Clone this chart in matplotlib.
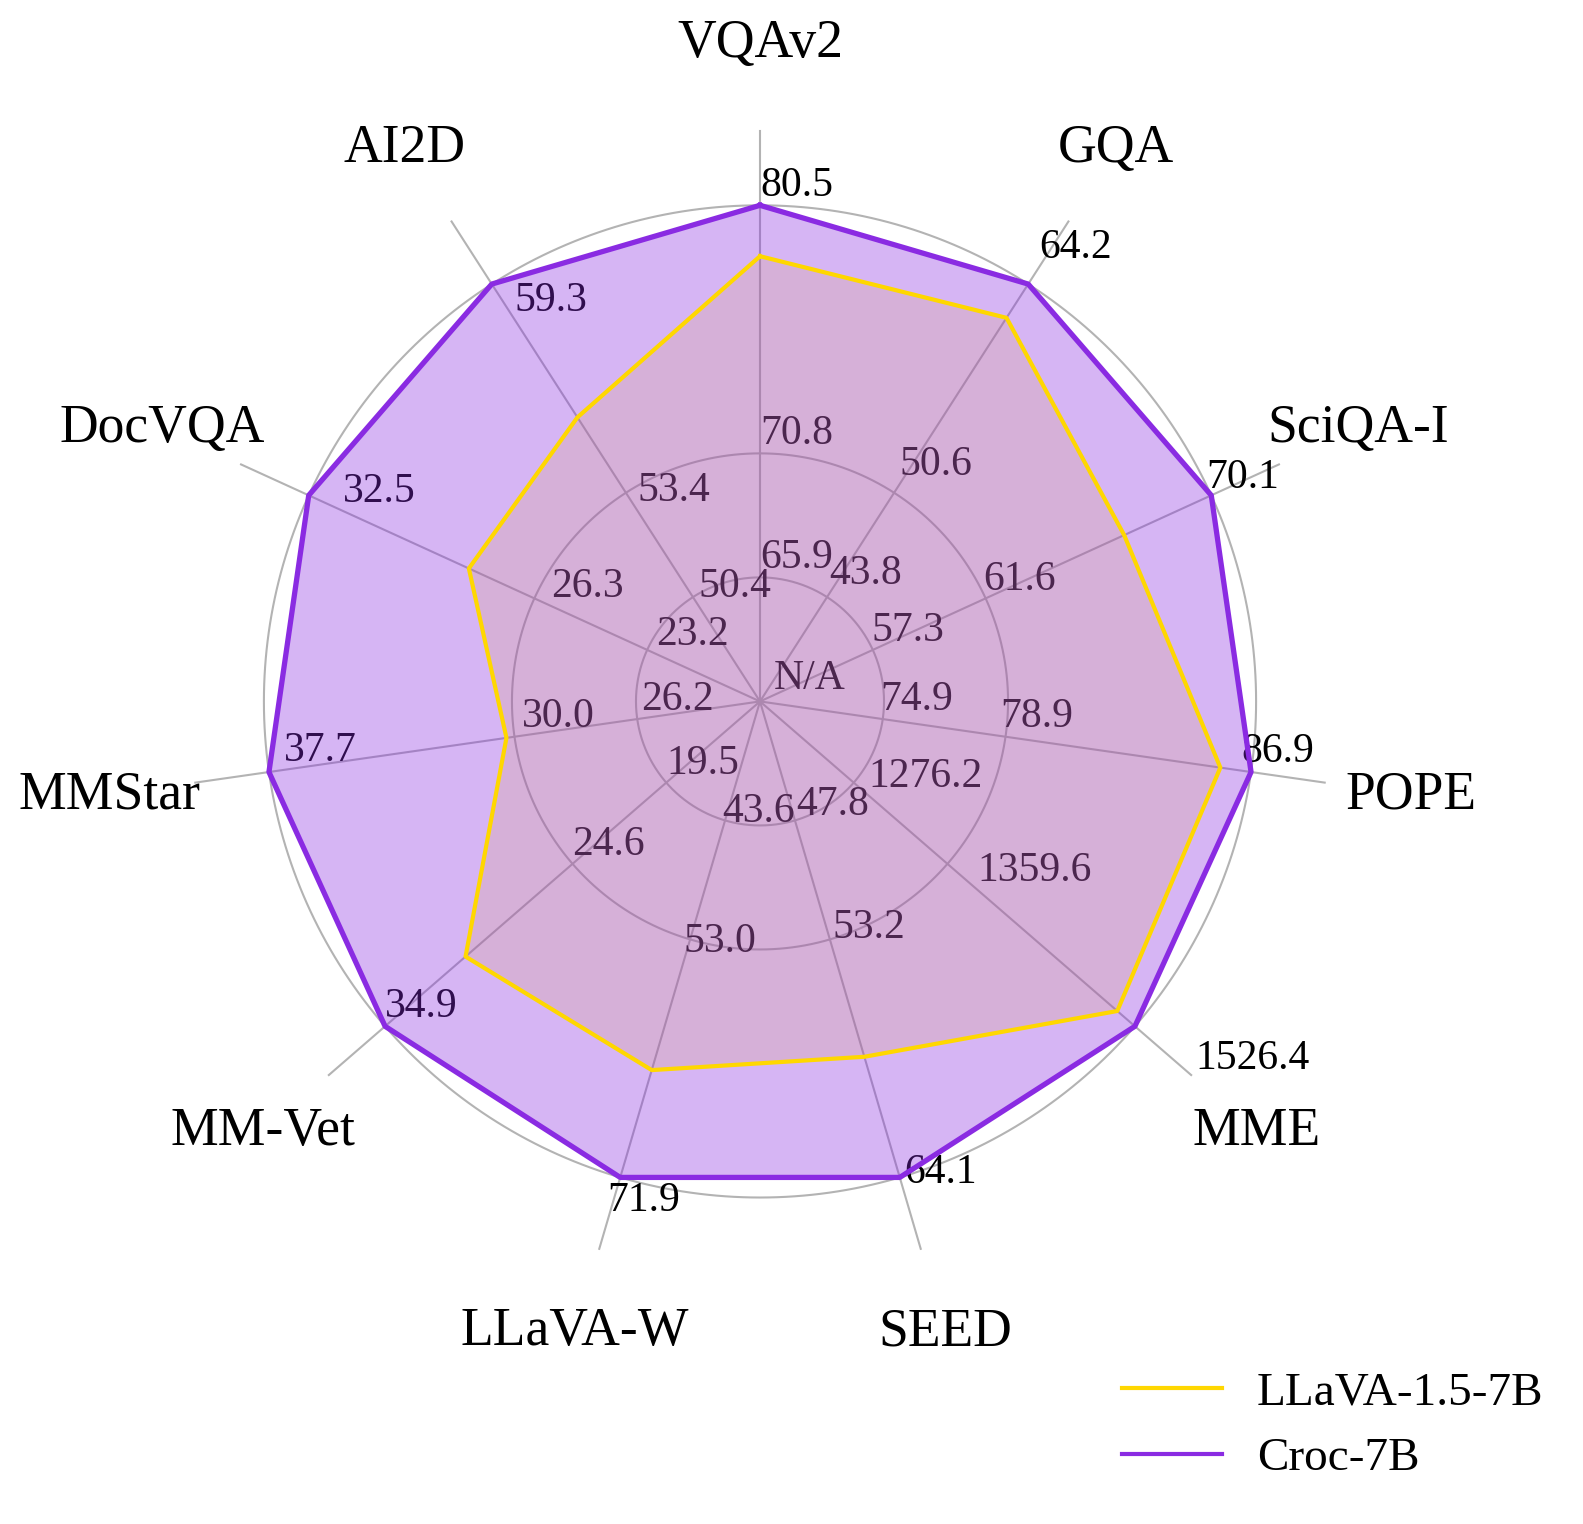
import numpy as np
import matplotlib
matplotlib.use("Agg")
import matplotlib.pyplot as plt
from matplotlib.lines import Line2D

# 数据
categories = ["VQAv2", "GQA", "SciQA-I", "POPE", "MME", "SEED",
              "LLaVA-W", "MM-Vet", "MMStar", "DocVQA", "AI2D"]
series_names = ["LLaVA-1.5-7B", "Croc-7B"]
llava_7b = [78.5, 62.0, 66.8, 85.9, 1510.7, 58.6, 63.4, 30.5, 30.3, 28.1, 55.5]
croc_7b = [80.5, 64.2, 70.1, 86.9, 1526.4, 64.1, 71.9, 34.9, 37.7, 32.5, 59.3]
# 每个轴在内圈 / 中圈上的刻度值
tick_inner = [65.9, 43.8, 57.3, 74.9, 1276.2, 47.8, 43.6, 19.5, 26.2, 23.2, 50.4]
tick_mid = [70.8, 50.6, 61.6, 78.9, 1359.6, 53.2, 53.0, 24.6, 30.0, 26.3, 53.4]

# 样式 / 布局
YELLOW = "#FFD700"
PURPLE = "#8A2BE2"
GRID = "#b3b3b3"
RINGS = [0.25, 0.5, 1.0]
SPOKE_END = 1.15
LABEL_R = 1.325
# 刻度文字的径向微调（每个轴）
label_k = [1.0, 1.04, 0.99, 0.98, 1.16, 1.03, 1.09, 1.0, 0.97, 0.925, 0.915]

plt.rcParams["font.family"] = ["Liberation Serif", "DejaVu Serif"]

n = len(categories)
angles = np.arange(n) * 2 * np.pi / n

# 每个轴单独线性缩放：内圈=0.25，中圈=0.5，Croc=1.0
inner = np.array(tick_inner)
mid = np.array(tick_mid)
lo = 2 * inner - mid
hi = np.array(croc_7b)


def to_r(vals):
    return (np.array(vals) - lo) / (hi - lo)


fig = plt.figure(figsize=(1583 / 200, 1524 / 200), dpi=200)
ax = fig.add_axes([0.1197, 0.1654, 0.7208, 0.7487], projection="polar")
ax.set_theta_offset(np.pi / 2)
ax.set_theta_direction(-1)
ax.set_ylim(0, SPOKE_END)
ax.axis("off")

# 网格
th = np.linspace(0, 2 * np.pi, 721)
for r in RINGS:
    ax.plot(th, np.full_like(th, r), color=GRID, lw=0.75, zorder=1, clip_on=False)
for a in angles:
    ax.plot([a, a], [0, SPOKE_END], color=GRID, lw=0.75, zorder=1, clip_on=False)

# 刻度文字
for i, a in enumerate(angles):
    texts = [f"{tick_inner[i]:.1f}", f"{tick_mid[i]:.1f}", f"{croc_7b[i]:.1f}"]
    for r, s in zip(RINGS, texts):
        ax.text(a, r * label_k[i], s, ha="left", va="bottom", fontsize=15, zorder=2)
ax.annotate("N/A", xy=(0, 0), xytext=(5, 1.3), textcoords="offset points",
            ha="left", va="bottom", fontsize=15, zorder=2)

# 类别名
for a, name in zip(angles, categories):
    ax.text(a, LABEL_R, name, ha="center", va="center", fontsize=19.3)

# 多边形
closed = np.append(angles, angles[0])
r_llava = to_r(llava_7b)
r_croc = to_r(croc_7b)
r_llava = np.append(r_llava, r_llava[0])
r_croc = np.append(r_croc, r_croc[0])

ax.fill(closed, r_llava, color=YELLOW, alpha=0.17, lw=0, zorder=3)
ax.fill(closed, r_croc, color=PURPLE, alpha=0.35, lw=0, zorder=4)
ax.plot(closed, r_llava, color=YELLOW, lw=1.5, zorder=5)
ax.plot(closed, r_croc, color=PURPLE, lw=1.9, zorder=6)

handles = [Line2D([], [], color=YELLOW, lw=1.5),
           Line2D([], [], color=PURPLE, lw=1.5)]
fig.legend(handles, series_names, loc="upper left", bbox_to_anchor=(0.7088, 0.100),
           frameon=False, fontsize=17, handlelength=2.12, handletextpad=0.74,
           labelspacing=0.48, borderpad=0, borderaxespad=0)

fig.savefig("out.png", dpi=200)
plt.close(fig)
